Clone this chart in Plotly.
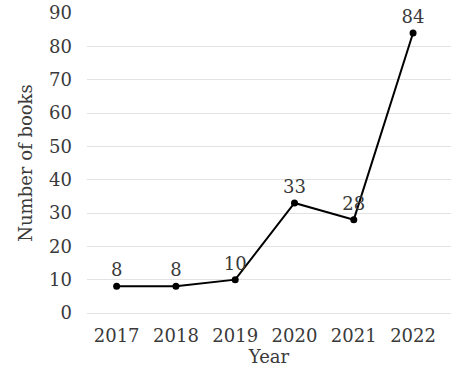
import plotly.graph_objects as go

years = ["2017", "2018", "2019", "2020", "2021", "2022"]
books = [8, 8, 10, 33, 28, 84]
y_ticks = [0, 10, 20, 30, 40, 50, 60, 70, 80, 90]

FONT = "DejaVu Serif"
TXT = "#3a3a3a"
fig = go.Figure()
fig.add_trace(go.Scatter(
    x=years, y=books, mode="lines+markers+text",
    text=[str(v) for v in books], textposition="top center",
    textfont=dict(family=FONT, size=18, color=TXT),
    line=dict(color="black", width=2),
    marker=dict(color="black", size=7),
    cliponaxis=False,
))
fig.update_layout(
    width=451, height=382,
    margin=dict(l=87, r=0, t=13, b=69),
    paper_bgcolor="white", plot_bgcolor="white",
    showlegend=False,
    font=dict(family=FONT, size=18, color=TXT),
)
fig.update_xaxes(
    type="category", range=[-0.5, 5.64], automargin=False,
    showgrid=False, zeroline=False, showline=False,
    tickfont=dict(family=FONT, size=18, color=TXT),
    ticklabelstandoff=10,
    title=dict(text="Year", standoff=4, font=dict(family=FONT, size=18, color=TXT)),
)
fig.update_yaxes(
    range=[0, 90], tickvals=y_ticks, automargin=False,
    showgrid=True, gridcolor="#e3e3e3", gridwidth=1,
    zeroline=True, zerolinecolor="#e3e3e3", zerolinewidth=1,
    showline=False,
    tickfont=dict(family=FONT, size=18, color=TXT),
    ticklabelstandoff=14,
    title=dict(text="Number of books", standoff=11, font=dict(family=FONT, size=18, color=TXT)),
)
fig.write_html("out.html", config={"displayModeBar": False},
               post_script="document.body.style.margin='0';document.body.style.overflow='hidden';")
